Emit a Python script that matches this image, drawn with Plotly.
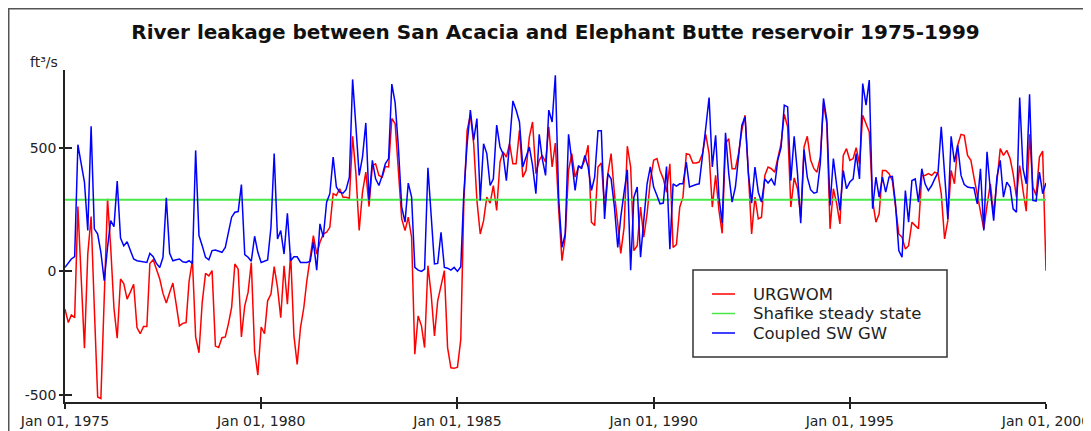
import pandas as pd
import plotly.graph_objects as go

start_date = "1975-01-01"
n_months = 301

urgwom = [
    -153, -207, -176, -187, 262, -25, -311, 70, 222, -150,
    -508, -514, -100, 293, 100, -150, -270, -31, -49, -112,
    -83, -52, -227, -252, -223, -223, 32, 47, 9, -31,
    -89, -128, -85, -47, -133, -220, -210, -207, -40, 46,
    -265, -329, -126, -8, -18, 3, -302, -308, -268, -265,
    -214, -146, 30, 9, -265, -139, -85, 36, -322, -419,
    -225, -252, -119, -92, 19, -65, -187, 23, -133, 73,
    -261, -376, -227, -146, -38, 50, 145, 70, 118, 151,
    158, 178, 314, 307, 334, 300, 300, 296, 546, 395,
    165, 320, 401, 262, 428, 435, 388, 381, 424, 422,
    618, 597, 395, 212, 165, 219, 138, -335, -180, -220,
    -308, 23, -92, -261, -119, -52, 3, -308, -390, -392,
    -387, -275, 273, 570, 631, 516, 287, 151, 205, 300,
    276, 347, 246, 442, 483, 462, 516, 435, 435, 570,
    381, 408, 543, 604, 395, 449, 469, 442, 584, 422,
    519, 250, 43, 138, 408, 476, 381, 422, 422, 449,
    510, 199, 185, 422, 438, 266, 395, 476, 314, 192,
    73, 178, 506, 422, 84, 104, 260, 138, 233, 367,
    449, 456, 408, 374, 320, 435, 97, 108, 260, 300,
    476, 472, 438, 438, 442, 476, 554, 476, 260, 388,
    246, 154, 516, 537, 415, 415, 476, 570, 631, 395,
    151, 300, 212, 219, 388, 422, 415, 401, 462, 516,
    635, 584, 260, 378, 334, 219, 503, 546, 450, 415,
    401, 462, 679, 597, 172, 334, 273, 192, 469, 496,
    449, 456, 500, 435, 631, 597, 564, 287, 199, 233,
    408, 408, 395, 367, 273, 151, 138, 90, 104, 199,
    185, 172, 388, 388, 395, 388, 401, 395, 314, 131,
    205, 408, 354, 510, 554, 550, 469, 449, 381, 307,
    239, 172, 266, 354, 233, 354, 496, 469, 489, 456,
    395, 300, 428, 327, 243, 554, 341, 307, 462, 486,
    3,
]

coupled = [
    16, 36, 50, 60, 512, 435, 361, 165, 587, 172,
    151, 77, -38, 97, 205, 181, 365, 135, 103, 120,
    84, 50, 43, 40, 36, 36, 73, 59, 32, 16,
    57, 297, 73, 43, 47, 50, 39, 36, 43, 32,
    489, 145, 104, 57, 47, 84, 86, 80, 77, 97,
    151, 219, 239, 242, 351, 68, 57, 41, 142, 77,
    36, 40, 46, 178, 476, 131, 165, 70, 235, 43,
    59, 59, 36, 36, 36, 40, 120, 5, 192, 138,
    280, 314, 462, 341, 320, 316, 330, 381, 776, 584,
    388, 462, 600, 287, 449, 374, 347, 388, 435, 456,
    757, 681, 503, 260, 199, 357, 300, 16, 5, 0,
    9, 419, 222, 30, 32, 158, 16, 13, 5, 16,
    0, 19, 314, 516, 652, 530, 618, 287, 516, 476,
    347, 374, 591, 503, 476, 367, 516, 689, 652, 604,
    422, 462, 503, 428, 314, 554, 456, 388, 652, 604,
    793, 293, 97, 151, 554, 449, 327, 428, 415, 469,
    422, 327, 381, 568, 568, 212, 395, 374, 260, 97,
    219, 320, 411, 5, 300, 341, 57, 205, 354, 422,
    341, 307, 273, 276, 424, 90, 354, 345, 354, 354,
    442, 341, 347, 351, 354, 462, 580, 703, 422, 550,
    300, 195, 560, 395, 280, 341, 462, 591, 625, 395,
    276, 422, 320, 280, 374, 357, 374, 347, 449, 500,
    672, 665, 367, 546, 395, 195, 492, 381, 330, 316,
    320, 435, 699, 611, 266, 456, 347, 246, 408, 334,
    361, 374, 476, 374, 759, 672, 773, 253, 381, 300,
    381, 320, 381, 384, 273, 84, 57, 327, 199, 367,
    374, 280, 415, 354, 327, 347, 374, 400, 584, 381,
    212, 546, 442, 510, 388, 351, 341, 338, 338, 273,
    415, 165, 483, 327, 205, 381, 449, 300, 361, 341,
    253, 239, 703, 415, 354, 716, 287, 284, 401, 314,
    357,
]

shafike_level = 290
shafike = [shafike_level] * n_months

series_names = ["URGWOM", "Shafike steady state", "Coupled SW GW"]
series_colors = ["#ff0000", "#48e848", "#0000ff"]
series_widths = [1.5, 2, 1.5]

y_tick_vals = [-500, 0, 500]
y_tick_text = ["-500", "0", "500"]

dates = pd.date_range(start_date, periods=n_months, freq="MS")

# page body has an 8px margin: work in screen pixels, convert to figure pixels
OFF = 8
W, H = 1091 - OFF, 431 - OFF
L, R, T, B = 65 - OFF, 1046 - OFF, 70 - OFF, 402 - OFF
pw, ph = R - L, B - T


def px(x_screen):
    return (x_screen - OFF - L) / pw


def py(y_screen):
    return (B - (y_screen - OFF)) / ph


font_family = "DejaVu Sans, Verdana, sans-serif"

fig = go.Figure()
for name, vals, col, lw in zip(series_names, [urgwom, shafike, coupled],
                               series_colors, series_widths):
    fig.add_trace(go.Scatter(x=dates, y=vals, mode="lines", name=name,
                             line=dict(color=col, width=lw), showlegend=False))
fig.add_trace(go.Scatter(x=[], y=[], xaxis="x2", yaxis="y2", showlegend=False,
                         hoverinfo="skip"))

x_range = [dates[0], dates[-1]]
y_range = [-528, 814]

fig.update_layout(
    width=W, height=H,
    margin=dict(l=L, r=W - R, t=T, b=H - B, pad=0, autoexpand=False),
    paper_bgcolor="white", plot_bgcolor="white",
    font=dict(family=font_family, size=14, color="#222"),
    title=dict(text="<b>River leakage between San Acacia and Elephant Butte reservoir 1975-1999</b>",
               x=0.5, xref="paper", xanchor="center",
               y=1 - (32 - OFF) / H, yref="container", yanchor="middle",
               font=dict(family=font_family, size=20, color="#111")),
    xaxis=dict(type="date", range=x_range, dtick="M60", tick0=start_date,
               tickformat="%b %d, %Y", showgrid=False, zeroline=False,
               automargin=False,
               showline=True, linecolor="#222", linewidth=1.5,
               ticks="outside", ticklen=5, tickcolor="#222", tickwidth=1.5,
               tickfont=dict(size=14, color="#222")),
    yaxis=dict(range=y_range, tickvals=y_tick_vals, ticktext=y_tick_text,
               showgrid=False, zeroline=False, automargin=False,
               showline=True, linecolor="#222", linewidth=1.5,
               ticks="outside", ticklen=4, tickcolor="#222", tickwidth=1.5,
               tickfont=dict(size=14, color="#222")),
    xaxis2=dict(type="date", overlaying="x", matches="x", range=x_range,
                dtick="M60", tick0=start_date, showticklabels=False, automargin=False,
                showgrid=False, zeroline=False, showline=False,
                ticks="inside", ticklen=5, tickcolor="#222", tickwidth=1.5),
    yaxis2=dict(overlaying="y", matches="y", range=y_range, tickvals=y_tick_vals,
                showticklabels=False, showgrid=False, zeroline=False, showline=False,
                automargin=False,
                ticks="inside", ticklen=7, tickcolor="#222", tickwidth=1.5),
    showlegend=False,
)

# figure frame (top/left visible)
fig.add_shape(type="rect", xref="paper", yref="paper",
              x0=px(8.75), x1=px(1300), y0=py(600), y1=py(8.75),
              line=dict(color="#555", width=1.5), fillcolor="rgba(0,0,0,0)", layer="below")

# legend box
fig.add_shape(type="rect", xref="paper", yref="paper",
              x0=px(693), x1=px(947), y0=py(357), y1=py(270),
              line=dict(color="#333", width=1.5), fillcolor="white", layer="above")
legend_rows = [294, 313.5, 333]
for name, col, yr in zip(series_names, series_colors, legend_rows):
    fig.add_shape(type="line", xref="paper", yref="paper",
                  x0=px(712), x1=px(735), y0=py(yr), y1=py(yr),
                  line=dict(color=col, width=1.5), layer="above")
    fig.add_annotation(text=name, xref="paper", yref="paper", x=px(751), y=py(yr),
                       xanchor="left", yanchor="middle", showarrow=False,
                       font=dict(family=font_family, size=16.5, color="#222"))

fig.add_annotation(text="ft³/s", xref="paper", yref="paper", x=px(28), y=py(62),
                   xanchor="left", yanchor="middle", showarrow=False,
                   font=dict(family=font_family, size=14, color="#222"))

fig.write_html("out.html")
